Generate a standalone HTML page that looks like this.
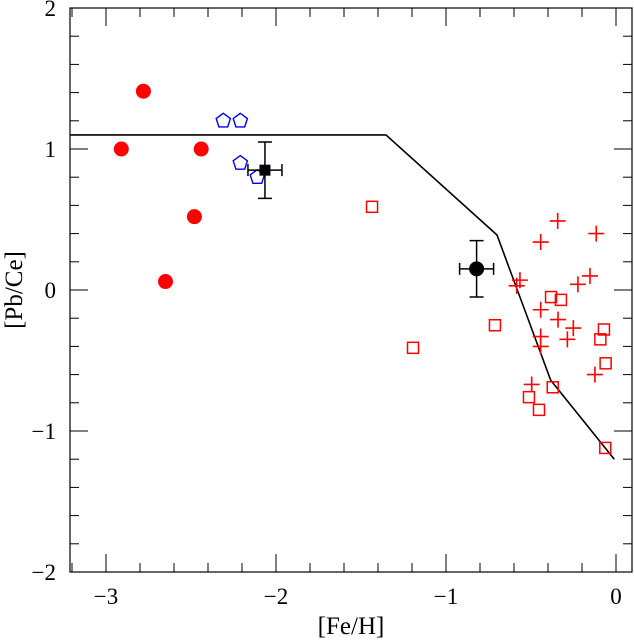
<!DOCTYPE html>
<html><head><meta charset="utf-8"><style>html,body{margin:0;padding:0;background:#fff}svg{display:block}text{font-family:"Liberation Serif",serif;fill:#000}</style></head>
<body>
<svg id="chart" width="634" height="640" viewBox="0 0 634 640" xmlns="http://www.w3.org/2000/svg"></svg>
<script>
const xTicks=[-3,-2,-1,0];
const yTicks=[-2,-1,0,1,2];
const redCircleX=[-2.78,-2.91,-2.44,-2.48,-2.65];
const redCircleY=[1.41,1.00,1.00,0.52,0.06];
const pentagonX=[-2.31,-2.21,-2.21,-2.11];
const pentagonY=[1.20,1.20,0.90,0.80];
const plusX=[-0.343,-0.116,-0.443,-0.565,-0.584,-0.153,-0.224,-0.443,-0.341,-0.251,-0.443,-0.286,-0.443,-0.124,-0.496];
const plusY=[0.49,0.40,0.34,0.07,0.03,0.10,0.04,-0.14,-0.21,-0.27,-0.33,-0.35,-0.40,-0.60,-0.67];
const squareX=[-0.382,-0.324,-0.712,-0.071,-0.092,-0.061,-0.372,-0.512,-0.453,-0.063,-1.435,-1.194];
const squareY=[-0.05,-0.07,-0.25,-0.28,-0.35,-0.52,-0.69,-0.76,-0.85,-1.12,0.59,-0.41];
const modelX=[-3.21,-1.353,-0.70,-0.384,-0.01];
const modelY=[1.10,1.10,0.39,-0.64,-1.20];
const meanSquare=[-2.065,0.85,0.10,0.20];
const meanCircle=[-0.82,0.15,0.10,0.20];

const svg=document.getElementById('chart');
const NS='http://www.w3.org/2000/svg';
const L=70,R=632,T=8,B=572;
const sx=v=>616+170*v;
const sy=v=>290-141*v;
function mk(tag,attrs,name,inter){
  const e=document.createElementNS(NS,tag);
  for(const k in attrs)e.setAttribute(k,attrs[k]);
  
  
  svg.appendChild(e);return e;
}
mk('rect',{x:L,y:T,width:R-L,height:B-T,fill:'none',stroke:'#000','stroke-width':1.2},'plot-frame',false);
// x ticks
for(let i=-16;i<=0;i++){
  const v=i/5;const x=sx(v);if(x<L||x>R)continue;
  const major=i%5===0;const len=major?18:9;
  mk('line',{x1:x,y1:B,x2:x,y2:B-len,stroke:'#000','stroke-width':1},'x-tick',false);
  mk('line',{x1:x,y1:T,x2:x,y2:T+len,stroke:'#000','stroke-width':1},'x-tick-top',false);
}
xTicks.forEach(v=>{const t=mk('text',{x:sx(v),y:604,'font-size':23,'text-anchor':'middle'},'x-tick-label',false);t.textContent=v<0?'\u2212'+Math.abs(v):String(v);});
for(let i=-10;i<=10;i++){
  const v=i/5;const y=sy(v);
  const major=i%5===0;const len=major?18:9;
  mk('line',{x1:L,y1:y,x2:L+len,y2:y,stroke:'#000','stroke-width':1},'y-tick',false);
  mk('line',{x1:R,y1:y,x2:R-len,y2:y,stroke:'#000','stroke-width':1},'y-tick-right',false);
}
yTicks.forEach(v=>{const t=mk('text',{x:56,y:sy(v)+8,'font-size':23,'text-anchor':'end'},'y-tick-label',false);t.textContent=v<0?'\u2212'+Math.abs(v):String(v);});
const xt=mk('text',{x:351,y:634,'font-size':25,'text-anchor':'middle'},'x-axis-title',false);xt.textContent='[Fe/H]';
const yt=mk('text',{x:22,y:290,'font-size':25,'text-anchor':'middle',transform:'rotate(-90 22 290)'},'y-axis-title',false);yt.textContent='[Pb/Ce]';
// model line
mk('polyline',{points:modelX.map((x,i)=>sx(x)+','+sy(modelY[i])).join(' '),fill:'none',stroke:'#000','stroke-width':1.6},'model-line',false);
// red circles
redCircleX.forEach((x,i)=>mk('circle',{cx:sx(x),cy:sy(redCircleY[i]),r:7.5,fill:'#f00'},'red-circle-point',false));
// pentagons
pentagonX.forEach((x,i)=>{const cx=sx(x),cy=sy(pentagonY[i]),r=7.5;let p=[];for(let k=0;k<5;k++){const a=-Math.PI/2+k*2*Math.PI/5;p.push((cx+r*Math.cos(a)).toFixed(1)+','+(cy+r*Math.sin(a)).toFixed(1));}
  mk('polygon',{points:p.join(' '),fill:'none',stroke:'#00f','stroke-width':1.4},'blue-pentagon-point',false);});
// plus
plusX.forEach((x,i)=>{const cx=sx(x),cy=sy(plusY[i]);
  mk('path',{d:`M${cx-8},${cy}H${cx+8}M${cx},${cy-8}V${cy+8}`,stroke:'#f00','stroke-width':1.6,fill:'none'},'red-plus-point',false);});
// squares
squareX.forEach((x,i)=>{const cx=sx(x),cy=sy(squareY[i]);
  mk('rect',{x:cx-5.5,y:cy-5.5,width:11,height:11,fill:'none',stroke:'#f00','stroke-width':1.5},'red-square-point',false);});
function errbar(d,name,shape){
  const cx=sx(d[0]),cy=sy(d[1]),x1=sx(d[0]-d[2]),x2=sx(d[0]+d[2]),y1=sy(d[1]+d[3]),y2=sy(d[1]-d[3]);
  mk('path',{d:`M${x1},${cy}H${x2}M${x1},${cy-6}V${cy+6}M${x2},${cy-6}V${cy+6}M${cx},${y1}V${y2}M${cx-7},${y1}H${cx+7}M${cx-7},${y2}H${cx+7}`,stroke:'#000','stroke-width':1.5,fill:'none'},name+'-error-bar',false);
  if(shape==='sq')mk('rect',{x:cx-5.5,y:cy-5.5,width:11,height:11,fill:'#000'},name,false);
  else mk('circle',{cx:cx,cy:cy,r:7.5,fill:'#000'},name,false);
}
errbar(meanSquare,'mean-square-point','sq');
errbar(meanCircle,'mean-circle-point','ci');
</script>
</body></html>
